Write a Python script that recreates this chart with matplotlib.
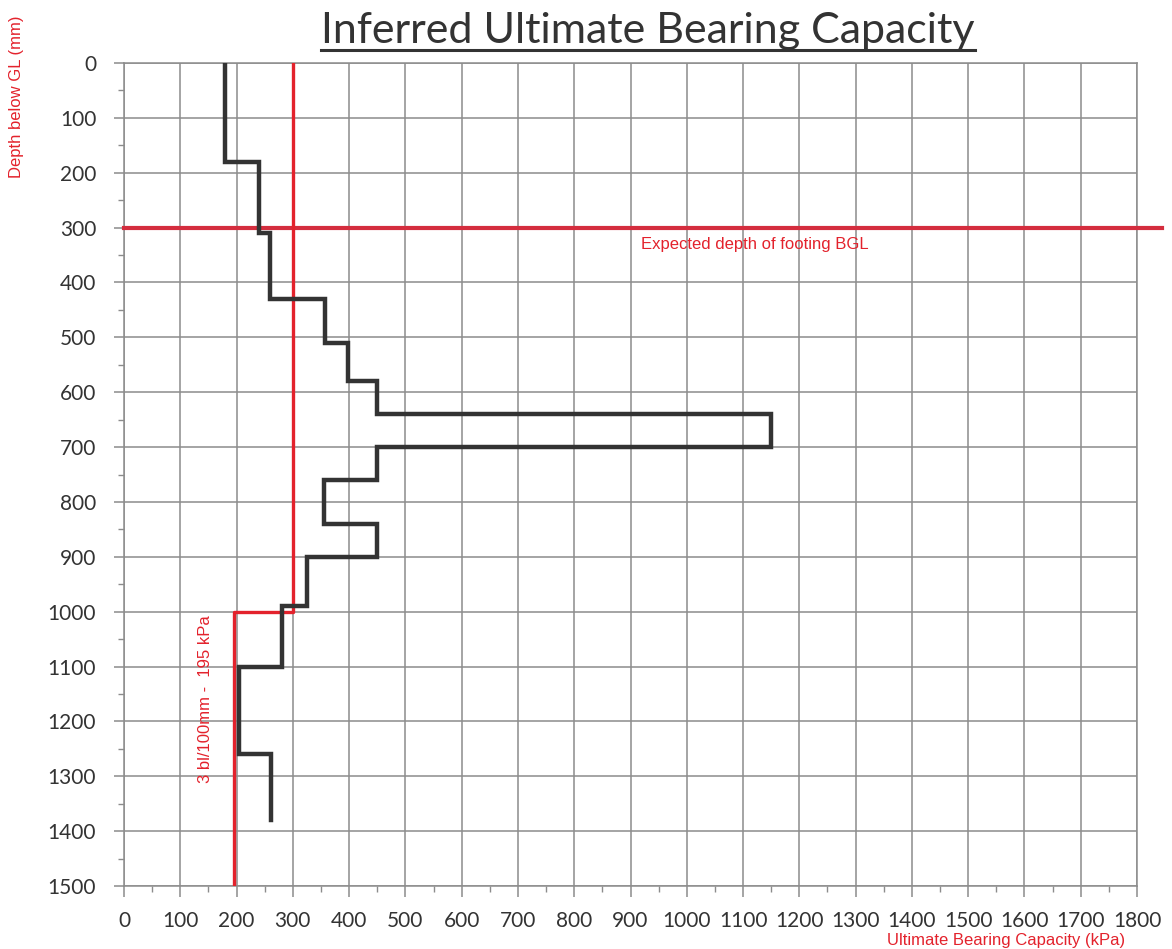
import numpy as np
import matplotlib
matplotlib.use('Agg')
import matplotlib.pyplot as plt
from matplotlib import ticker
from matplotlib.lines import Line2D

# DCP-derived bearing capacity profile (step per depth interval)
depth_top = [0, 180, 310, 430, 510, 580, 640, 700, 760, 840, 900, 990, 1100, 1260]
depth_bottom = [180, 310, 430, 510, 580, 640, 700, 760, 840, 900, 990, 1100, 1260, 1380]
capacity_kpa = [180, 240, 260, 358, 398, 450, 1150, 450, 355, 450, 325, 280, 205, 262]

# required capacity line: 300 kPa to 1000 mm, then 195 kPa below
req_depth = [0, 1000, 1000, 1500]
req_kpa = [300, 300, 195, 195]

footing_depth = 300
footing_extent = [0, 1845]

x_ticks = list(range(0, 1801, 100))
y_ticks = list(range(0, 1501, 100))

RED = '#e3222c'
RED2 = '#d42d3e'
DARK = '#333333'
GRID = '#8c8c8c'

W, H = 1172, 949
fig = plt.figure(figsize=(W / 100, H / 100), dpi=100)
ax = fig.add_axes([124 / W, 1 - 886 / H, (1137 - 124) / W, (886 - 63) / H])

# step profile
xs, ys = [], []
for k, t, b in zip(capacity_kpa, depth_top, depth_bottom):
    xs += [k, k]
    ys += [t, b]
ax.plot(footing_extent, [footing_depth, footing_depth], color=RED2, lw=3.0,
        clip_on=False, zorder=3)
ax.plot(req_kpa, req_depth, color=RED, lw=2.4, zorder=3)
ax.plot(xs, ys, color=DARK, lw=3.2, solid_joinstyle='miter', zorder=4)

ax.set_xlim(0, 1800)
ax.set_ylim(1500, 0)
ax.xaxis.set_major_locator(ticker.FixedLocator(x_ticks))
ax.yaxis.set_major_locator(ticker.FixedLocator(y_ticks))
ax.xaxis.set_minor_locator(ticker.MultipleLocator(50))
ax.yaxis.set_minor_locator(ticker.MultipleLocator(50))
ax.grid(True, which='major', color=GRID, lw=1.1)
ax.set_axisbelow(True)
for s in ax.spines.values():
    s.set_color(GRID)
    s.set_linewidth(1.1)

ax.tick_params(which='major', direction='out', width=1.1, color=GRID,
               labelsize=15, labelcolor=DARK)
ax.tick_params(axis='x', which='major', length=8, pad=10)
ax.tick_params(axis='y', which='major', length=7, pad=13)
ax.tick_params(which='minor', direction='out', length=4, width=1.0, color=GRID)
for lab in ax.get_xticklabels() + ax.get_yticklabels():
    lab.set_family('Lato')

ax.text(918, 330, 'Expected depth of footing BGL', color=RED, fontsize=12,
        family='Liberation Sans', va='center', ha='left', zorder=5)
ax.text(144, 1160, '3 bl/100mm -  195 kPa', color=RED, fontsize=12,
        family='Liberation Sans', rotation=90, va='center', ha='center', zorder=5)

fig.text(17 / W, 1 - 97 / H, 'Depth below GL (mm)', color=RED, fontsize=12,
         family='Liberation Sans', rotation=90, va='center', ha='center')
fig.text(1006 / W, 1 - 933 / H, 'Ultimate Bearing Capacity (kPa)', color=RED,
         fontsize=12, family='Liberation Sans', va='top', ha='center')

title = fig.text(648 / W, 1 - 43 / H, 'Inferred Ultimate Bearing Capacity',
                 color=DARK, fontsize=31, family='Lato', va='baseline', ha='center')

# underline under the title
fig.canvas.draw()
bb = title.get_window_extent().transformed(fig.transFigure.inverted())
uy = 1 - 50 / H
fig.add_artist(Line2D([bb.x0, bb.x1], [uy, uy], color=DARK, lw=2.2,
                      transform=fig.transFigure))

fig.savefig('out.png', dpi=100)
